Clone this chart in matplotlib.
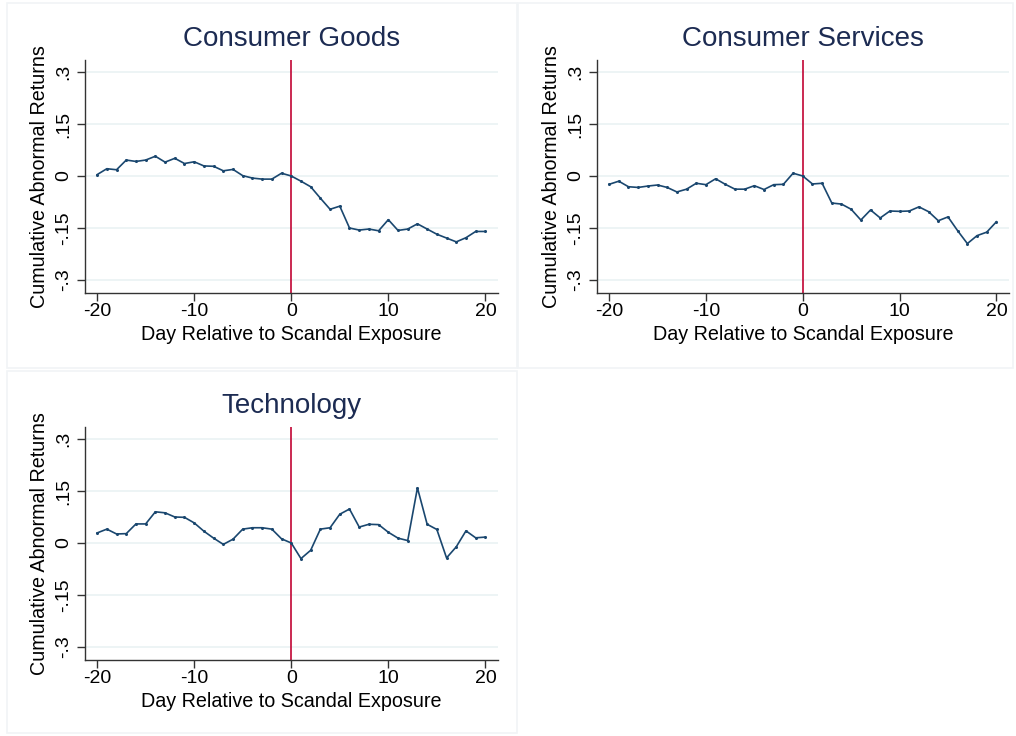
import numpy as np
import matplotlib.pyplot as plt
from matplotlib.patches import Rectangle

plt.rcParams['font.family'] = ['Liberation Sans', 'DejaVu Sans']

days = list(range(-20, 21))

# Cumulative abnormal returns
car_goods = [0.004, 0.021, 0.018, 0.046, 0.042, 0.046, 0.057, 0.040, 0.051, 0.036,
             0.041, 0.029, 0.028, 0.015, 0.019, 0.001, -0.006, -0.009, -0.009, 0.008,
             0.000, -0.015, -0.031, -0.064, -0.096, -0.087, -0.150, -0.156, -0.153, -0.158,
             -0.126, -0.157, -0.153, -0.138, -0.153, -0.168, -0.179, -0.190, -0.178, -0.160,
             -0.160]
car_services = [-0.024, -0.015, -0.031, -0.033, -0.029, -0.026, -0.033, -0.046, -0.038, -0.021,
                -0.025, -0.008, -0.024, -0.038, -0.038, -0.028, -0.039, -0.025, -0.024, 0.008,
                0.000, -0.023, -0.021, -0.078, -0.081, -0.096, -0.127, -0.098, -0.121, -0.101,
                -0.102, -0.101, -0.089, -0.103, -0.129, -0.118, -0.158, -0.195, -0.172, -0.162,
                -0.132]
car_tech = [0.029, 0.040, 0.026, 0.027, 0.055, 0.055, 0.090, 0.087, 0.075, 0.074,
            0.058, 0.034, 0.014, -0.004, 0.011, 0.040, 0.044, 0.044, 0.040, 0.012,
            0.000, -0.045, -0.021, 0.040, 0.044, 0.083, 0.098, 0.046, 0.054, 0.053,
            0.031, 0.014, 0.007, 0.159, 0.054, 0.039, -0.043, -0.011, 0.035, 0.015,
            0.017]

titles = ['Consumer Goods', 'Consumer Services', 'Technology']
series = [car_goods, car_services, car_tech]
yticks = [-0.3, -0.15, 0, 0.15, 0.3]
ytick_labels = ['-.3', '-.15', '0', '.15', '.3']
xticks = [-20, -10, 0, 10, 20]

W, H = 1016, 736
fig = plt.figure(figsize=(W / 100, H / 100), dpi=100)

# axes boxes in pixels: left, top, right, bottom
boxes = [(85, 60, 498, 293), (597, 60, 1009, 293), (85, 427, 498, 660)]
# panel frames in pixels
frames = [(7, 3, 517, 368), (518, 3, 1013, 368), (7, 371, 517, 733)]

for (l, t, r, b) in frames:
    fig.add_artist(Rectangle((l / W, 1 - b / H), (r - l) / W, (b - t) / H,
                             transform=fig.transFigure, fill=False,
                             edgecolor='#f1f4f6', linewidth=1.2))

line_col = '#1a476f'
for title, vals, (l, t, r, b) in zip(titles, series, boxes):
    ax = fig.add_axes([l / W, 1 - b / H, (r - l) / W, (b - t) / H])
    ax.set_xlim(-21.25, 21.3)
    ax.set_ylim(-0.3375, 0.3346)
    for y in yticks:
        ax.axhline(y, color='#eaf2f3', linewidth=1.2, zorder=0)
    ax.axvline(0, color='#c10534', linewidth=1.2, zorder=2)
    ax.plot(days, vals, color=line_col, linewidth=1.2, marker='o', markersize=1.2, zorder=3)
    ax.spines['top'].set_visible(False)
    ax.spines['right'].set_visible(False)
    for s in ['left', 'bottom']:
        ax.spines[s].set_color('#333333')
        ax.spines[s].set_linewidth(1.0)
    ax.set_yticks(yticks)
    ax.set_yticklabels(ytick_labels, rotation=90, va='center')
    ax.set_xticks(xticks)
    ax.set_xticklabels(['-20', '-10', '0', '10', '20'])
    ax.tick_params(axis='both', labelsize=14, length=5.5, width=1.0, color='#333333', pad=2)
    ax.tick_params(axis='y', pad=4)
    ax.set_xlabel('Day Relative to Scandal Exposure', fontsize=14.2, labelpad=3)
    ax.set_ylabel('Cumulative Abnormal Returns', fontsize=14.2, labelpad=4)
    ax.set_title(title, fontsize=20, color='#1c2b52', pad=10)

fig.savefig('out.png', dpi=100)
